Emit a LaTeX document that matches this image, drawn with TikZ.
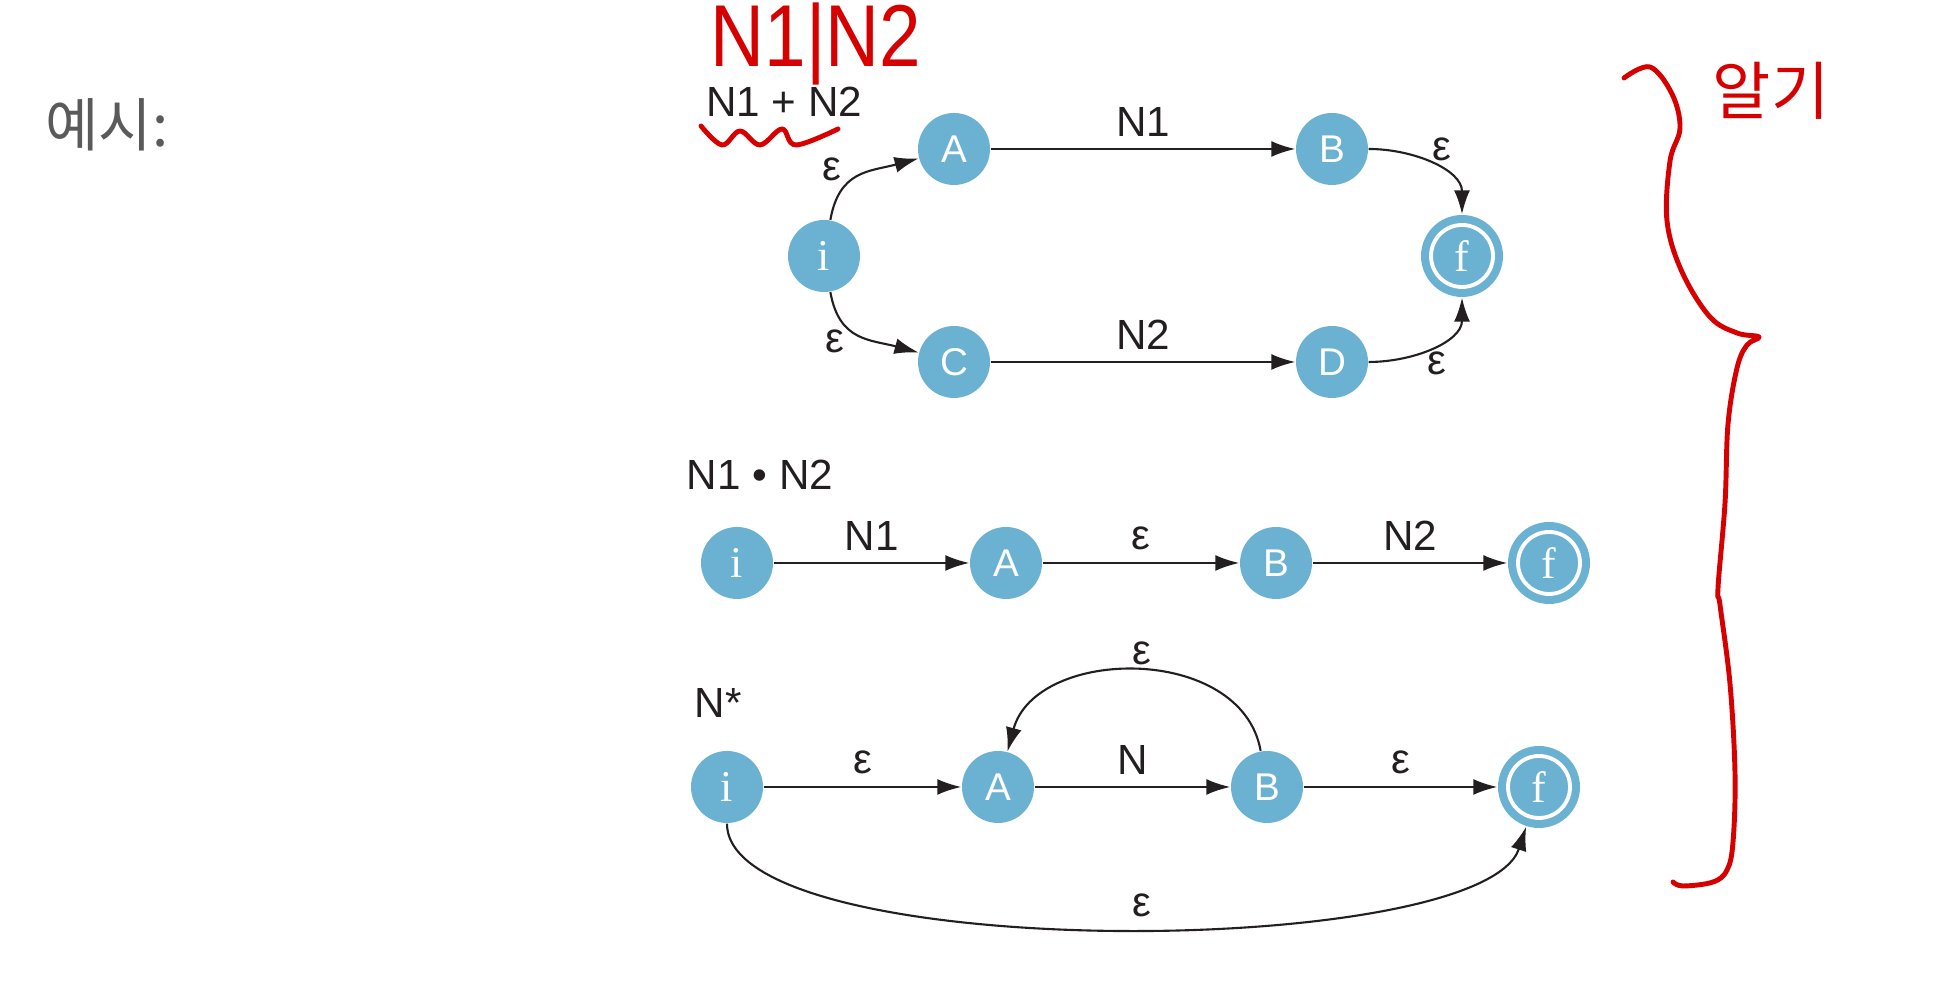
\documentclass[tikz,border=0pt]{standalone}
\usepackage{fontspec}
\setmainfont{Liberation Sans}
\newfontfamily\statefont{Liberation Serif}
\newfontfamily\krfont{Noto Sans CJK KR}
\usepackage{tikz}
\usepackage{xcolor}
\usetikzlibrary{arrows.meta}
\definecolor{stateblue}{RGB}{107,178,210}
\definecolor{penred}{RGB}{214,0,0}
\definecolor{headgray}{RGB}{90,90,90}
\definecolor{ink}{RGB}{35,31,32}

\begin{document}
\begin{tikzpicture}[
    state/.style={circle, fill=stateblue, minimum size=7.2mm, inner sep=0pt, text=white, font=\fontsize{11}{11}\selectfont},
    rstate/.style={state, font=\statefont\fontsize{12.5}{12.5}\selectfont},
    accept/.style={rstate, minimum size=8.2mm, path picture={\draw[white, line width=1.1pt] (path picture bounding box.center) circle (3.1mm);}},
    trans/.style={-{Latex[length=2.4mm, width=1.6mm]}, ink, line width=0.6pt},
    lbl/.style={text=ink, font=\fontsize{12}{12}\selectfont},
    pen/.style={penred, line width=1.4pt, line cap=round, line join=round}
]
    \useasboundingbox (0,0) rectangle (19.46,10);

    % Heading
    \node[text=headgray, font=\krfont\fontsize{16.5}{16.5}\selectfont] (head) at (1.07,8.75) {예시:};

    % N1 + N2
    \node[lbl] (plus) at (7.84,8.98) {N1 + N2};
    \node[rstate] (iT) at (8.24,7.44) {i};
    \node[state] (aT) at (9.54,8.51) {A};
    \node[state] (bT) at (13.32,8.51) {B};
    \node[state] (cT) at (9.54,6.38) {C};
    \node[state] (dT) at (13.32,6.38) {D};
    \node[accept] (fT) at (14.62,7.44) {f};

    \draw[trans] (iT) to[out=80, in=195, looseness=1.2] (aT);
    \draw[trans] (iT) to[out=-80, in=165, looseness=1.2] (cT);
    \draw[trans] (aT) -- node[lbl, above] (n1T) {N1} (bT);
    \draw[trans] (cT) -- node[lbl, above] (n2T) {N2} (dT);
    \draw[trans] (bT) to[out=0, in=90] (fT);
    \draw[trans] (dT) to[out=0, in=-90] (fT);

    \node[lbl] (eiaT) at (8.32,8.31) {ε};
    \node[lbl] (eicT) at (8.35,6.59) {ε};
    \node[lbl] (ebfT) at (14.42,8.51) {ε};
    \node[lbl] (edfT) at (14.37,6.37) {ε};

    % N1 . N2
    \node[lbl] (dot) at (7.60,5.25) {N1 • N2};
    \node[rstate] (iM) at (7.37,4.37) {i};
    \node[state] (aM) at (10.06,4.37) {A};
    \node[state] (bM) at (12.76,4.37) {B};
    \node[accept] (fM) at (15.49,4.37) {f};

    \draw[trans] (iM) -- node[lbl, above] (n1M) {N1} (aM);
    \draw[trans] (aM) -- node[lbl, above] (eM) {ε} (bM);
    \draw[trans] (bM) -- node[lbl, above] (n2M) {N2} (fM);

    % N*
    \node[lbl] (star) at (7.18,2.97) {N*};
    \node[rstate] (iB) at (7.27,2.13) {i};
    \node[state] (aB) at (9.98,2.13) {A};
    \node[state] (bB) at (12.67,2.13) {B};
    \node[accept] (fB) at (15.39,2.13) {f};

    \draw[trans] (iB) -- node[lbl, above] (eiaB) {ε} (aB);
    \draw[trans] (aB) -- node[lbl, above] (nB) {N} (bB);
    \draw[trans] (bB) -- node[lbl, above] (ebfB) {ε} (fB);
    \draw[trans] (bB) to[out=100, in=75, looseness=1.1] (aB);
    \draw[trans] (iB) to[out=-90, in=-108, looseness=0.45] (fB);

    \node[lbl] (ebaB) at (11.42,3.47) {ε};
    \node[lbl] (eifB) at (11.42,0.95) {ε};

    % Pen notes
    \node[text=penred, font=\fontsize{25}{25}\selectfont, xscale=0.85] (hand) at (8.16,9.56) {N1|N2};
    \draw[pen] plot[smooth, tension=0.6] coordinates {(7.01,8.74) (7.22,8.55) (7.40,8.69) (7.60,8.55) (7.82,8.71) (7.96,8.55) (8.38,8.71)};
    \node[text=penred, font=\krfont\fontsize{18}{18}\selectfont] (memo) at (17.71,9.09) {알기};
    \draw[pen] plot[smooth, tension=0.6] coordinates {(16.24,9.22) (16.50,9.33) (16.72,9.06) (16.80,8.72) (16.70,8.39) (16.67,7.79) (16.82,7.28) (17.10,6.83) (17.37,6.67) (17.59,6.63)
        (17.47,6.55) (17.37,6.32) (17.28,5.76) (17.25,4.97) (17.18,4.12) (17.20,3.95) (17.30,3.16) (17.35,2.26) (17.33,1.58) (17.27,1.30) (17.13,1.18) (16.83,1.14) (16.73,1.18)};
\end{tikzpicture}
\end{document}
